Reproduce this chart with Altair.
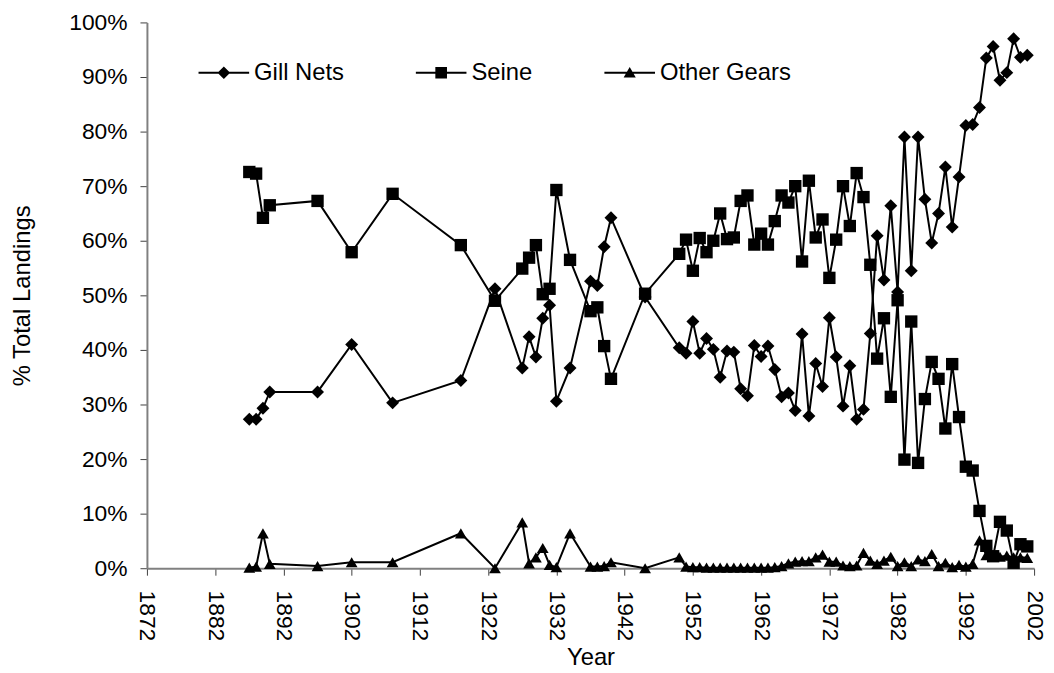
import altair as alt
import pandas as pd

years = [1887, 1888, 1889, 1890, 1897, 1902, 1908, 1918, 1923, 1927, 1928, 1929,
         1930, 1931, 1932, 1934, 1937, 1938, 1939, 1940, 1945,
         1950, 1951, 1952, 1953, 1954, 1955, 1956, 1957, 1958, 1959,
         1960, 1961, 1962, 1963, 1964, 1965, 1966, 1967, 1968, 1969,
         1970, 1971, 1972, 1973, 1974, 1975, 1976, 1977, 1978, 1979,
         1980, 1981, 1982, 1983, 1984, 1985, 1986, 1987, 1988, 1989,
         1990, 1991, 1992, 1993, 1994, 1995, 1996, 1997, 1998, 1999,
         2000, 2001]

gill_nets = [27.3, 27.3, 29.3, 32.3, 32.3, 41.0, 30.3, 34.4, 51.2, 36.7, 42.4, 38.7,
             45.8, 48.2, 30.6, 36.7, 52.6, 51.8, 58.9, 64.2, 49.7,
             40.4, 39.4, 45.2, 39.4, 42.1, 40.1, 35.0, 39.8, 39.6, 32.9,
             31.6, 40.8, 38.8, 40.7, 36.4, 31.4, 32.1, 28.9, 42.9, 27.9,
             37.5, 33.3, 45.9, 38.7, 29.7, 37.1, 27.3, 29.1, 43.0, 60.9,
             52.8, 66.4, 50.6, 79.0, 54.5, 79.0, 67.6, 59.6, 65.0, 73.5,
             62.5, 71.7, 81.1, 81.3, 84.4, 93.5, 95.6, 89.4, 90.8, 97.0,
             93.6, 94.0]

seine = [72.6, 72.3, 64.2, 66.5, 67.3, 57.9, 68.6, 59.2, 49.0, 54.9, 56.9, 59.2,
         50.2, 51.2, 69.3, 56.5, 47.1, 47.8, 40.7, 34.7, 50.3,
         57.6, 60.2, 54.5, 60.5, 57.9, 60.0, 65.0, 60.3, 60.6, 67.3,
         68.3, 59.3, 61.3, 59.3, 63.6, 68.3, 67.0, 70.0, 56.2, 71.0,
         60.6, 63.9, 53.2, 60.2, 70.0, 62.7, 72.4, 68.0, 55.6, 38.4,
         45.8, 31.4, 49.1, 19.9, 45.2, 19.3, 31.0, 37.8, 34.7, 25.6,
         37.4, 27.7, 18.6, 17.9, 10.5, 4.1, 2.2, 8.5, 6.9, 1.0,
         4.4, 4.0]

other_gears = [0.1, 0.3, 6.4, 0.8, 0.4, 1.1, 1.1, 6.4, 0.0, 8.4, 0.9, 2.0,
               3.7, 0.6, 0.2, 6.4, 0.3, 0.3, 0.4, 1.1, 0.0,
               2.0, 0.3, 0.2, 0.2, 0.1, 0.1, 0.1, 0.1, 0.1, 0.1,
               0.1, 0.1, 0.1, 0.1, 0.2, 0.4, 0.9, 1.2, 1.3, 1.3,
               2.0, 2.5, 1.2, 1.2, 0.5, 0.4, 0.5, 2.8, 1.4, 0.8,
               1.4, 2.1, 0.4, 1.1, 0.4, 1.6, 1.3, 2.6, 0.4, 1.0,
               0.2, 0.6, 0.3, 0.8, 5.1, 2.4, 2.2, 2.1, 2.3, 2.0,
               2.0, 1.9]

series_names = ["Gill Nets", "Seine", "Other Gears"]
x_ticks = list(range(1872, 2003, 10))
y_ticks = list(range(0, 101, 10))

rows = []
for name, vals in zip(series_names, [gill_nets, seine, other_gears]):
    for yr, v in zip(years, vals):
        rows.append({"year": yr, "series": name, "value": v})
df = pd.DataFrame(rows)

FONT = "Liberation Sans"

x_enc = alt.X(
    "year:Q",
    scale=alt.Scale(domain=[1872, 2002], nice=False, zero=False),
    axis=alt.Axis(values=x_ticks, format="d", labelAngle=90, title="Year",
                  grid=False, tickSize=7, labelPadding=15,
                  titleY=97, titleBaseline="alphabetic"),
)
y_enc = alt.Y(
    "value:Q",
    scale=alt.Scale(domain=[0, 100], nice=False),
    axis=alt.Axis(values=y_ticks, labelExpr="datum.value + '%'",
                  title="% Total Landings", grid=False, tickSize=7,
                  labelPadding=13, titleAngle=270, titleX=-125, titleY=275,
                  titleAlign="center", titleBaseline="middle"),
)

base = alt.Chart(df).encode(x=x_enc, y=y_enc)

lines = base.mark_line(color="black", strokeWidth=2).encode(detail="series:N")

points = base.mark_point(filled=True, color="black", opacity=1).encode(
    shape=alt.Shape("series:N",
                    scale=alt.Scale(domain=series_names,
                                    range=["diamond", "square", "triangle-up"]),
                    legend=None),
    size=alt.Size("series:N",
                  scale=alt.Scale(domain=series_names, range=[170, 140, 170]),
                  legend=None),
)

# legend symbols: a short line with the series marker on it
legend_paths = [
    "M-1,-0.04L1,-0.04L1,0.04L-1,0.04Z M0,-0.25L0.25,0L0,0.25L-0.25,0Z",
    "M-1,-0.04L1,-0.04L1,0.04L-1,0.04Z M-0.23,-0.23L0.23,-0.23L0.23,0.23L-0.23,0.23Z",
    "M-1,-0.04L1,-0.04L1,0.04L-1,0.04Z M0,-0.23L0.24,0.19L-0.24,0.19Z",
]

legend_layer = base.transform_filter("datum.year < 0").mark_point(
    filled=True, color="black", opacity=1, size=2601
).encode(
    shape=alt.Shape(
        "series:N",
        scale=alt.Scale(domain=series_names, range=legend_paths),
        legend=alt.Legend(
            title=None, orient="none", direction="horizontal",
            legendX=52, legendY=25, padding=0, columnPadding=72,
            labelOffset=5, symbolSize=2601, labelFont=FONT,
            labelFontSize=24, labelColor="black",
            symbolFillColor="black", symbolOpacity=1, symbolStrokeWidth=0,
        ),
    )
)

chart = alt.layer(lines, points, legend_layer).resolve_scale(
    shape="independent", size="independent"
).properties(
    width=894, height=550, background="white",
    autosize=alt.AutoSizeParams(type="none"),
    padding={"left": 140, "top": 12, "right": 12, "bottom": 99},
).configure_axis(
    labelFont=FONT, titleFont=FONT, labelFontSize=23, titleFontSize=24,
    labelColor="black", titleColor="black", titleFontWeight="normal",
    domainColor="#808080", domainWidth=2, tickColor="#404040", tickWidth=1,
).configure_view(stroke=None)

chart.save("out.html", embed_options={"renderer": "svg", "actions": False})
